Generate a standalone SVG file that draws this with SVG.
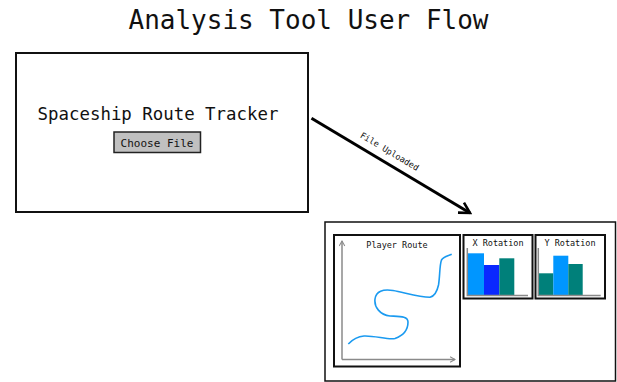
<svg xmlns="http://www.w3.org/2000/svg" width="617" height="382" viewBox="0 0 617 382">
<defs>
<style>
text{font-family:"DejaVu Sans Mono","Liberation Mono",monospace;fill:#111}
.box{fill:#fff;stroke:#111;stroke-width:2}
.axis{fill:none;stroke:#8a8a8a;stroke-width:1.5}
.lbl{font-size:8.5px;text-anchor:middle}
.lb{fill:#0096ff}
.db{fill:#0a28ff}
.tl{fill:#00807a}
</style>
<marker id="ah" viewBox="0 0 10 10" refX="8" refY="5" markerWidth="7" markerHeight="7" markerUnits="userSpaceOnUse" orient="auto">
<path d="M1,1 L8,5 L1,9" fill="none" stroke="#8a8a8a" stroke-width="1.5"/>
</marker>
<marker id="bigah" viewBox="0 0 12 12" refX="10" refY="6" markerWidth="14" markerHeight="14" markerUnits="userSpaceOnUse" orient="auto">
<path d="M1,1 L10,6 L1,11" fill="none" stroke="#000" stroke-width="2.2"/>
</marker>
</defs>
<rect width="617" height="382" fill="#fff"/>
<text x="308.5" y="29" font-size="26" text-anchor="middle">Analysis Tool User Flow</text>

<g id="uploader">
<rect class="box" x="16" y="53" width="292" height="159"/>
<text x="158" y="120" font-size="17.4" text-anchor="middle">Spaceship Route Tracker</text>
<g id="choose-file">
<rect x="114" y="132" width="86.5" height="20.5" fill="#c0c0c0" stroke="#222" stroke-width="1.5"/>
<text x="157" y="146.5" font-size="11" text-anchor="middle">Choose File</text>
</g>
</g>

<g id="connectors">
<line x1="311.5" y1="118.3" x2="470" y2="213" stroke="#000" stroke-width="3" marker-end="url(#bigah)"/>
<text x="388" y="154" font-size="8.5" text-anchor="middle" transform="rotate(30.9 388 154)">File Uploaded</text>
</g>

<g id="dashboard">
<rect x="325" y="222" width="290.5" height="159" fill="#fff" stroke="#111" stroke-width="1.5"/>
<g id="player-route">
<rect class="box" x="334" y="235" width="126" height="131.5"/>
<text class="lbl" x="397" y="248">Player Route</text>
<path class="axis" d="M342,359.5 L342,241" marker-end="url(#ah)"/>
<path class="axis" d="M342,359.5 L455,359.5" marker-end="url(#ah)"/>
<path d="M348.3,344 C353,339 357,336.5 364,336 C375,335.5 388,340 395,338.5 C402,336 408,331 408,322 C408,316 400,316.5 390,316 C380,315 374,307 375,299 C376,291 383,289 393,290.5 C403,292 418,297 430,297.3 C435,296 437,292 438.5,285 C440,276 439.5,265 441.5,260 C443.5,256.5 448,256 451.7,254.3" fill="none" stroke="#1a9af0" stroke-width="1.6"/>
</g>
<g id="x-rotation">
<rect class="box" x="463.5" y="235" width="69" height="63.5"/>
<text class="lbl" x="498" y="245.5">X Rotation</text>
<rect class="lb" x="468" y="253.3" width="16" height="41.7"/>
<rect class="db" x="484" y="265" width="15.3" height="30"/>
<rect class="tl" x="499.3" y="258.3" width="15" height="36.7"/>
<path class="axis" d="M467.3,248 L467.3,295.5 L528,295.5"/>
</g>
<g id="y-rotation">
<rect class="box" x="535.5" y="235" width="69.5" height="63.5"/>
<text class="lbl" x="570" y="245.5">Y Rotation</text>
<rect class="tl" x="538.5" y="273.3" width="14.8" height="21.7"/>
<rect class="lb" x="553.3" y="255.7" width="15" height="39.3"/>
<rect class="tl" x="568.3" y="264" width="14.4" height="31"/>
<path class="axis" d="M538.3,248 L538.3,295.5 L600.7,295.5"/>
</g>
</g>
</svg>
